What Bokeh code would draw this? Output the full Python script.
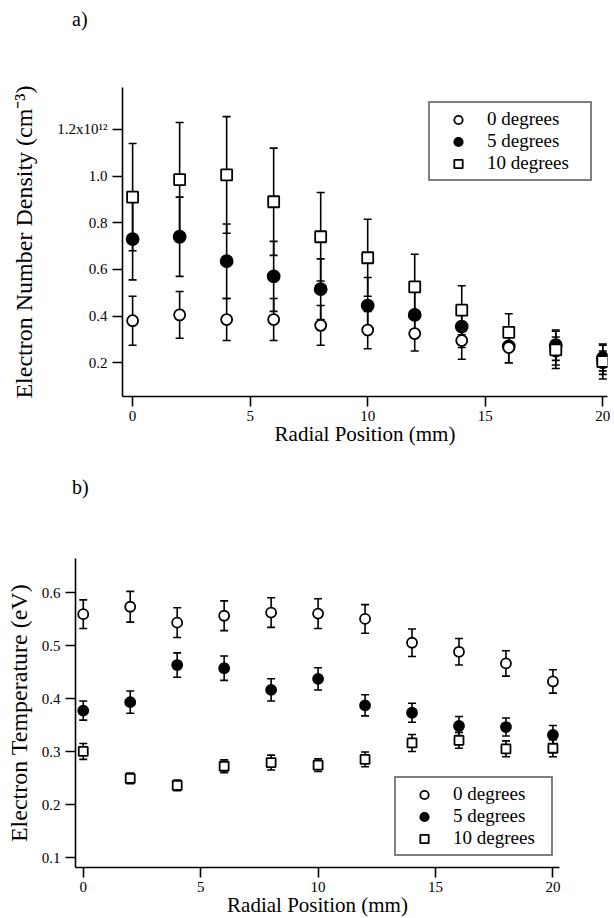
from bokeh.plotting import figure
from bokeh.models import (Whisker, TeeHead, ColumnDataSource, FixedTicker, Legend,
                          LegendItem, Range1d, Div)
from bokeh.embed import file_html
from bokeh.resources import INLINE

# ---------------- data ----------------
radial_mm = [0, 2, 4, 6, 8, 10, 12, 14, 16, 18, 20]

# (a) electron number density, units of 10^12 cm^-3
dens_0deg = [0.38, 0.405, 0.385, 0.385, 0.36, 0.34, 0.325, 0.295, 0.265, 0.25, 0.20]
dens_0deg_err = [0.105, 0.10, 0.09, 0.09, 0.085, 0.08, 0.075, 0.08, 0.065, 0.06, 0.05]
dens_5deg = [0.73, 0.74, 0.635, 0.57, 0.515, 0.445, 0.405, 0.355, 0.27, 0.275, 0.22]
dens_5deg_err = [0.175, 0.17, 0.16, 0.15, 0.13, 0.12, 0.10, 0.09, 0.07, 0.065, 0.055]
dens_10deg = [0.91, 0.985, 1.005, 0.89, 0.74, 0.65, 0.525, 0.425, 0.33, 0.255, 0.205]
dens_10deg_err = [0.23, 0.245, 0.25, 0.23, 0.19, 0.165, 0.14, 0.105, 0.08, 0.08, 0.075]

# (b) electron temperature, eV
temp_0deg = [0.56, 0.574, 0.544, 0.557, 0.563, 0.561, 0.551, 0.506, 0.489, 0.467, 0.433]
temp_0deg_err = [0.027, 0.029, 0.028, 0.028, 0.028, 0.028, 0.027, 0.026, 0.025, 0.024, 0.022]
temp_5deg = [0.378, 0.394, 0.464, 0.458, 0.417, 0.438, 0.388, 0.374, 0.349, 0.347, 0.332]
temp_5deg_err = [0.018, 0.021, 0.023, 0.023, 0.021, 0.021, 0.02, 0.018, 0.018, 0.017, 0.018]
temp_10deg = [0.301, 0.25, 0.237, 0.273, 0.28, 0.275, 0.286, 0.317, 0.322, 0.306, 0.307]
temp_10deg_err = [0.015, 0.01, 0.01, 0.012, 0.014, 0.012, 0.014, 0.016, 0.015, 0.015, 0.016]

series_labels = ["0 degrees", "5 degrees", "10 degrees"]
panel_labels = ["a)", "b)"]

dens_ticks = [0.2, 0.4, 0.6, 0.8, 1.0, 1.2]
dens_tick_labels = ["0.2", "0.4", "0.6", "0.8", "1.0", "1.2x10\u00b9\u00b2"]
temp_ticks = [0.1, 0.2, 0.3, 0.4, 0.5, 0.6]
temp_tick_labels = ["0.1", "0.2", "0.3", "0.4", "0.5", "0.6"]
x_ticks = [0, 5, 10, 15, 20]

FONT = "'Liberation Serif'"


def style_axes(p, yticks, ylabels, ylabel, y_standoff):
    p.outline_line_color = None
    p.xgrid.visible = False
    p.ygrid.visible = False
    p.background_fill_color = "white"
    p.border_fill_color = "white"
    for ax in (p.xaxis[0], p.yaxis[0]):
        ax.axis_line_color = "black"
        ax.axis_line_width = 1.6
        ax.major_tick_line_color = "black"
        ax.major_tick_line_width = 1.6
        ax.major_tick_out = 10
        ax.major_tick_in = 0
        ax.minor_tick_out = 0
        ax.minor_tick_in = 0
        ax.major_label_text_font = FONT
        ax.major_label_text_font_size = "15px"
        ax.major_label_text_color = "black"
        ax.axis_label_text_font = FONT
        ax.axis_label_text_font_style = "normal"
        ax.axis_label_text_color = "black"
    p.xaxis[0].ticker = FixedTicker(ticks=x_ticks)
    p.xaxis[0].axis_label = "Radial Position (mm)"
    p.xaxis[0].axis_label_text_font_size = "21px"
    p.xaxis[0].axis_label_standoff = -2
    p.xaxis[0].major_label_standoff = 4
    p.yaxis[0].ticker = FixedTicker(ticks=yticks)
    p.yaxis[0].major_label_overrides = {t: l for t, l in zip(yticks, ylabels)}
    p.yaxis[0].axis_label = ylabel
    p.yaxis[0].axis_label_text_font_size = "24px"
    p.yaxis[0].axis_label_standoff = y_standoff


def panel_div(text, height, pad_top):
    return Div(text=text, width=600, height=height, margin=0,
               styles={"font-family": "'Liberation Serif', serif",
                       "font-size": "20px", "line-height": "23px",
                       "color": "black", "padding-left": "72px",
                       "padding-top": f"{pad_top}px", "box-sizing": "border-box"})


def add_series(p, vals, errs, sizes, lw):
    kinds = [("circle", "white"), ("circle", "black"), ("square", "white")]
    srcs = []
    for v, e in zip(vals, errs):
        src = ColumnDataSource(dict(
            x=radial_mm, y=v,
            upper=[a + b for a, b in zip(v, e)],
            lower=[a - b for a, b in zip(v, e)]))
        srcs.append(src)
        w = Whisker(base="x", upper="upper", lower="lower", source=src,
                    line_color="black", line_width=1.6,
                    upper_head=TeeHead(size=8, line_width=1.6, line_color="black"),
                    lower_head=TeeHead(size=8, line_width=1.6, line_color="black"))
        p.add_layout(w)
    out = [None, None, None]
    for i in [1, 0, 2]:
        marker, fill = kinds[i]
        out[i] = p.scatter("x", "y", source=srcs[i], marker=marker, size=sizes[i],
                           fill_color=fill, line_color="black", line_width=lw)
    return out


def add_legend(p, rends, loc, label_width):
    items = [LegendItem(label=l, renderers=[r]) for l, r in zip(series_labels, rends)]
    lg = Legend(items=items, location=loc)
    lg.border_line_color = "black"
    lg.border_line_width = 2
    lg.background_fill_color = "white"
    lg.background_fill_alpha = 1
    lg.padding = 5
    lg.spacing = 0
    lg.margin = 0
    lg.label_height = 21
    lg.glyph_height = 21
    lg.glyph_width = 46
    lg.label_width = label_width
    lg.label_standoff = 6
    lg.label_text_font = FONT
    lg.label_text_font_size = "19px"
    lg.label_text_color = "black"
    lg.label_text_baseline = "middle"
    p.add_layout(lg)


# ---------------- panel a ----------------
div_a = panel_div(panel_labels[0], 40, 8)
pa = figure(frame_width=485, frame_height=309,
            min_border_left=122, min_border_right=5,
            min_border_top=47, min_border_bottom=54,
            x_range=Range1d(-0.43, 20.2), y_range=Range1d(0.055, 1.38),
            output_backend="svg", toolbar_location=None)
style_axes(pa, dens_ticks, dens_tick_labels,
           "Electron Number Density (cm\u207b\u00b3)", 17)
ra = add_series(pa, [dens_0deg, dens_5deg, dens_10deg],
                [dens_0deg_err, dens_5deg_err, dens_10deg_err],
                [11, 12, 11], 1.8)
add_legend(pa, ra, (306, 215), 98)

# ---------------- panel b ----------------
div_b = panel_div(panel_labels[1], 50, 26)
pb = figure(frame_width=484, frame_height=309,
            min_border_left=75, min_border_right=51,
            min_border_top=58, min_border_bottom=48,
            x_range=Range1d(-0.33, 20.28), y_range=Range1d(0.082, 0.665),
            output_backend="svg", toolbar_location=None)
style_axes(pb, temp_ticks, temp_tick_labels, "Electron Temperature (eV)", 7)
rb = add_series(pb, [temp_0deg, temp_5deg, temp_10deg],
                [temp_0deg_err, temp_5deg_err, temp_10deg_err],
                [10, 10, 9], 1.8)
add_legend(pb, rb, (319, 11), 93)

open("out.html", "w").write(file_html([div_a, pa, div_b, pb], INLINE))
